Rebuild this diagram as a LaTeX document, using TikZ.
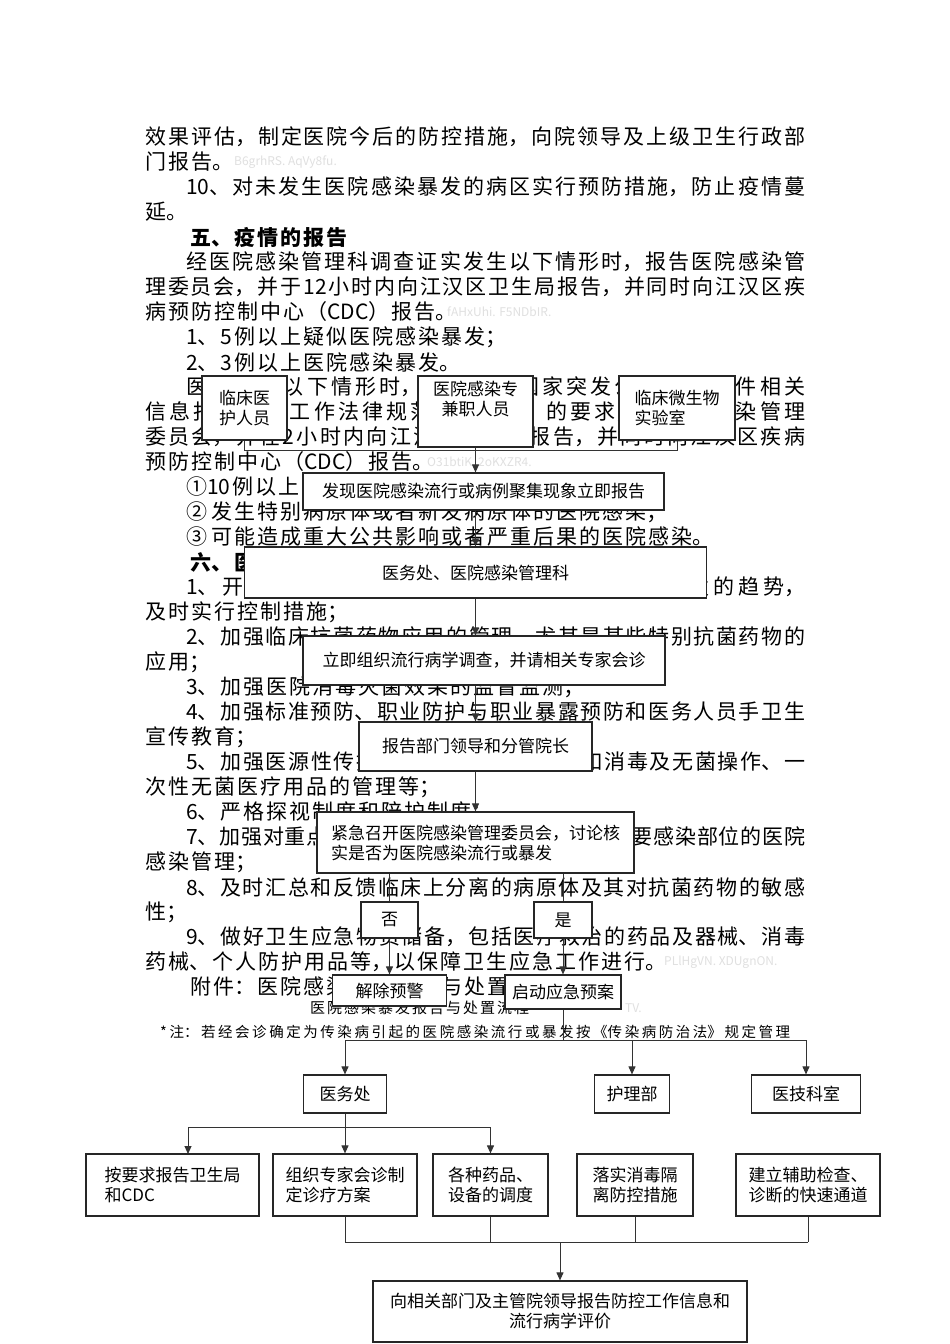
\documentclass[tikz,border=0pt]{standalone}
\usepackage{fontspec}
\newfontfamily\cjk{Noto Sans CJK SC}
\usetikzlibrary{arrows.meta}
\XeTeXlinebreaklocale "zh"
\XeTeXlinebreakskip=0pt plus 1pt
\pgfdeclarelayer{bg}
\pgfdeclarelayer{lines}
\pgfsetlayers{bg,lines,main}
\newcommand\bodyfont{\cjk\fontsize{21}{25}\selectfont\XeTeXlinebreakskip=2pt plus 10pt minus 2pt\relax}
\newcommand\flowfont{\cjk\fontsize{17}{20}\selectfont}
\newcommand\lineJ[5]{\node[bodytxt] (#1) at (#2,#3) {\parbox{#4pt}{\parfillskip=0pt #5}};}
\newcommand\lineN[4]{\node[bodytxt] (#1) at (#2,#3) {\parbox{750pt}{#4}};}
\tikzset{
  bodytxt/.style={anchor=west,inner sep=0pt,font=\bodyfont},
  fbox/.style={draw=black!85,line width=1.2pt,fill=white,inner sep=2pt,font=\flowfont,align=center},
  conn/.style={draw=black!80,line width=1pt},
  arr/.style={conn,-{Triangle[length=8pt,width=7pt]}},
  wm/.style={anchor=west,inner sep=0pt,text=black!12,font=\cjk\fontsize{12}{14}\selectfont},
}
\begin{document}
\begin{tikzpicture}[x=1pt,y=-1pt]
\useasboundingbox (0,0) rectangle (950,1344);
\begin{pgfonlayer}{bg}
\fill[white] (0,0) rectangle (950,1344);
\lineJ{t1}{145}{137}{660}{效果评估，制定医院今后的防控措施，向院领导及上级卫生行政部}
\lineN{t2}{145}{162}{门报告。}
\lineJ{t3}{186}{187}{619}{10、对未发生医院感染暴发的病区实行预防措施，防止疫情蔓}
\lineN{t4}{145}{212}{延。}
\lineN{t5}{190}{237}{\bfseries 五、疫情的报告}
\lineJ{t6}{186}{262}{619}{经医院感染管理科调查证实发生以下情形时，报告医院感染管}
\lineJ{t7}{145}{287}{660}{理委员会，并于12小时内向江汉区卫生局报告，并同时向江汉区疾}
\lineN{t8}{145}{312}{病预防控制中心（CDC）报告。}
\lineN{t9}{186}{337}{1、5例以上疑似医院感染暴发；}
\lineN{t10}{186}{362}{2、3例以上医院感染暴发。}
\lineJ{t11}{186}{387}{619}{医院发生以下情形时，应按照《国家突发公共卫生事件相关}
\lineJ{t12}{145}{412}{660}{信息报告管理工作法律规范（试行）》的要求，报医院感染管理}
\lineJ{t13}{145}{437}{660}{委员会，并在2小时内向江汉区卫生局报告，并同时向江汉区疾病}
\lineN{t14}{145}{462}{预防控制中心（CDC）报告。}
\lineN{t15}{186}{487}{①10例以上的医院感染暴发事件；}
\lineN{t16}{186}{512}{② 发生特别病原体或者新发病原体的医院感染；}
\lineN{t17}{186}{537}{③ 可能造成重大公共影响或者严重后果的医院感染。}
\lineN{t18}{190}{562}{\bfseries 六、医院感染暴发的控制措施}
\lineJ{t19}{186}{587}{619}{1、开展医院感染的监测，及时发现医院感染暴发的趋势，}
\lineN{t20}{145}{612}{及时实行控制措施；}
\lineJ{t21}{186}{637}{619}{2、加强临床抗菌药物应用的管理，尤其是某些特别抗菌药物的}
\lineN{t22}{145}{662}{应用；}
\lineN{t23}{186}{687}{3、加强医院消毒灭菌效果的监督监测；}
\lineJ{t24}{186}{712}{619}{4、加强标准预防、职业防护与职业暴露预防和医务人员手卫生}
\lineN{t25}{145}{737}{宣传教育；}
\lineJ{t26}{186}{762}{619}{5、加强医源性传播因素的监测与管理，如消毒及无菌操作、一}
\lineN{t27}{145}{787}{次性无菌医疗用品的管理等；}
\lineN{t28}{186}{812}{6、严格探视制度和陪护制度；}
\lineJ{t29}{186}{837}{619}{7、加强对重点部门、重点环节、重点人群与主要感染部位的医院}
\lineN{t30}{145}{862}{感染管理；}
\lineJ{t31}{186}{887}{619}{8、及时汇总和反馈临床上分离的病原体及其对抗菌药物的敏感}
\lineN{t32}{145}{912}{性；}
\lineJ{t33}{186}{937}{619}{9、做好卫生应急物资储备，包括医疗救治的药品及器械、消毒}
\lineN{t34}{145}{962}{药械、个人防护用品等，以保障卫生应急工作进行。}
\lineN{t35}{190}{987}{附件：医院感染暴发报告与处置流程}
\node[anchor=west,inner sep=0pt,font=\cjk\fontsize{15}{18}\selectfont] (cap) at (310,1008)
  {\parbox{300pt}{\XeTeXlinebreakskip=2pt plus 1pt\relax 医院感染暴发报告与处置流程}};
\node[anchor=west,inner sep=0pt,font=\cjk\fontsize{14.5}{17}\selectfont] (note) at (160,1032)
  {\parbox{630pt}{\XeTeXlinebreakskip=2pt plus 6pt minus 2pt\relax\parfillskip=0pt *注：若经会诊确定为传染病引起的医院感染流行或暴发按《传染病防治法》规定管理}};
\node[wm] (wm1) at (234,162) {B6grhRS. AqVy8fu.};
\node[wm] (wm2) at (447,312) {fAHxUhi. F5NDbIR.};
\node[wm] (wm3) at (427,462) {O31btiK. 2oKXZR4.};
\node[wm] (wm4) at (664,962) {PLlHgVN. XDUgnON.};
\node[wm] (wm5) at (625,1008) {TV.};
\end{pgfonlayer}

% boxes
\node[fbox,minimum width=85pt,minimum height=64pt] (b1) at (244.5,408) {临床医\\护人员};
\node[fbox,minimum width=115pt,minimum height=71pt] (b2) at (475.5,411.5) {医院感染专\\兼职人员\\\strut};
\node[fbox,minimum width=116pt,minimum height=64pt,align=left] (b3) at (677,408) {临床微生物\\实验室};
\node[fbox,minimum width=361pt,minimum height=37pt] (b4) at (483.5,491.5) {发现医院感染流行或病例聚集现象立即报告};
\node[fbox,minimum width=462pt,minimum height=51pt] (b5) at (475.5,572.5) {医务处、医院感染管理科};
\node[fbox,minimum width=362pt,minimum height=49pt] (b6) at (484,660.5) {立即组织流行病学调查，并请相关专家会诊};
\node[fbox,minimum width=233pt,minimum height=49pt] (b7) at (475.5,746.5) {报告部门领导和分管院长};
\node[fbox,minimum width=317pt,minimum height=61pt,align=left] (b8) at (475.5,842.5) {紧急召开医院感染管理委员会，讨论核\\实是否为医院感染流行或暴发};
\node[fbox,minimum width=57pt,minimum height=36pt] (b9) at (389.5,920) {否};
\node[fbox,minimum width=58pt,minimum height=36pt] (b10) at (563,920) {是};
\node[fbox,minimum width=114pt,minimum height=31pt] (b11) at (389.5,990.5) {解除预警};
\node[fbox,minimum width=116pt,minimum height=34pt] (b12) at (563,992) {启动应急预案};
\node[fbox,minimum width=83pt,minimum height=38pt] (b13) at (345,1094) {医务处};
\node[fbox,minimum width=75pt,minimum height=38pt] (b14) at (632,1094) {护理部};
\node[fbox,minimum width=109pt,minimum height=38pt] (b15) at (806,1094) {医技科室};
\node[fbox,minimum width=173pt,minimum height=62pt,align=left] (c1) at (172.5,1185) {按要求报告卫生局\\和CDC};
\node[fbox,minimum width=144pt,minimum height=62pt,align=left] (c2) at (345,1185) {组织专家会诊制\\定诊疗方案};
\node[fbox,minimum width=115pt,minimum height=62pt,align=left] (c3) at (490.5,1185) {各种药品、\\设备的调度};
\node[fbox,minimum width=116pt,minimum height=62pt,align=left] (c4) at (635,1185) {落实消毒隔\\离防控措施};
\node[fbox,minimum width=144pt,minimum height=62pt,align=left] (c5) at (808,1185) {建立辅助检查、\\诊断的快速通道};
\node[fbox,minimum width=374pt,minimum height=61pt] (d) at (560,1311.5) {向相关部门及主管院领导报告防控工作信息和\\流行病学评价};

\coordinate (j1) at (0,450);
\coordinate (j2) at (0,1040);
\coordinate (j3) at (0,1127);
\coordinate (j4) at (0,1242);
\coordinate (c1a) at (188,1154);

\begin{pgfonlayer}{lines}
\draw[conn] (b1.south) -- (b1.south |- j1) -- (b3.south |- j1) -- (b3.south);
\draw[arr] (b2.south) -- (b2.south |- b4.north);
\draw[arr] (b5.north |- b4.south) -- (b5.north);
\draw[arr] (b5.south) -- (b5.south |- b6.north);
\draw[arr] (b7.north |- b6.south) -- (b7.north);
\draw[arr] (b7.south) -- (b8.north);
\draw[arr] (b8.south -| b11) -- (b11.north);
\draw[arr] (b8.south -| b12) -- (b12.north);
\draw[conn] (b12.south) -- (b12.south |- j2);
\draw[conn] (b13.north |- j2) -- (b15.north |- j2);
\draw[arr] (b13.north |- j2) -- (b13.north);
\draw[arr] (b14.north |- j2) -- (b14.north);
\draw[arr] (b15.north |- j2) -- (b15.north);
\draw[conn] (b13.south) -- (b13.south |- j3);
\draw[conn] (c1a |- j3) -- (c3.north |- j3);
\draw[arr] (c1a |- j3) -- (c1a);
\draw[arr] (c2.north |- j3) -- (c2.north);
\draw[arr] (c3.north |- j3) -- (c3.north);
\draw[conn] (c2.south) -- (c2.south |- j4);
\draw[conn] (c3.south) -- (c3.south |- j4);
\draw[conn] (c4.south) -- (c4.south |- j4);
\draw[conn] (c5.south) -- (c5.south |- j4);
\draw[conn] (c2.south |- j4) -- (c5.south |- j4);
\draw[arr] (d.north |- j4) -- (d.north);
\end{pgfonlayer}
\end{tikzpicture}
\end{document}
